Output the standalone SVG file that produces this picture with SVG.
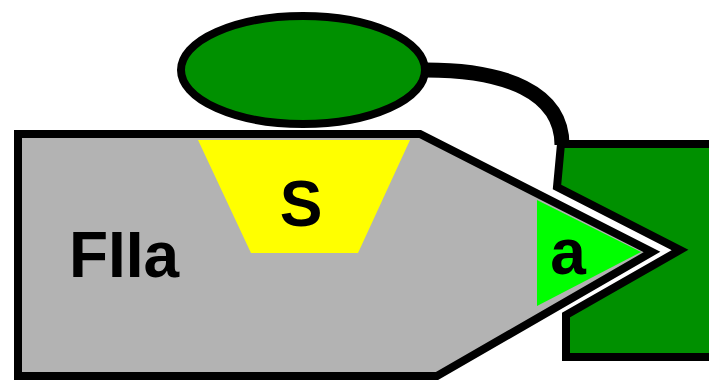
<svg xmlns="http://www.w3.org/2000/svg" width="709" height="380" viewBox="0 0 709 380">
  <style>
    .lbl { font-family: "Liberation Sans", Arial, sans-serif; font-weight: bold; font-size: 64px; fill: #000; text-anchor: middle; }
    .outline { stroke: #000; stroke-width: 8; stroke-linejoin: miter; }
  </style>
  <rect width="709" height="380" fill="#fff"/>

  <!-- link between the cofactor and the receptor block -->
  <g id="connectors">
    <path d="M426,70 C505,70 562,92 562,145" fill="none" stroke="#000" stroke-width="15"/>
  </g>

  <!-- receptor block with notch -->
  <g id="receptor">
    <polygon class="outline" fill="#009000" points="561,144 714,144 714,357 566,357 566,315 680,250 557,187"/>
  </g>

  <!-- protease body -->
  <g id="fiia">
    <polygon class="outline" fill="#b3b3b3" points="18,134 420,134 652,252 437,376 18,376"/>
    <text class="lbl" x="124" y="277">FIIa</text>
  </g>

  <!-- S site -->
  <g id="site-s">
    <polygon fill="#ffff00" points="198,140 410,140 358,253 251,253"/>
    <text class="lbl" x="301" y="226">S</text>
  </g>

  <!-- active tip -->
  <g id="site-a">
    <polygon fill="#00ff00" points="537,200 641,252 537,306"/>
    <text class="lbl" x="568" y="274">a</text>
  </g>

  <!-- cofactor -->
  <g id="cofactor">
    <ellipse cx="303" cy="70" rx="122" ry="54" fill="#009000" stroke="#000" stroke-width="8"/>
  </g>
</svg>
